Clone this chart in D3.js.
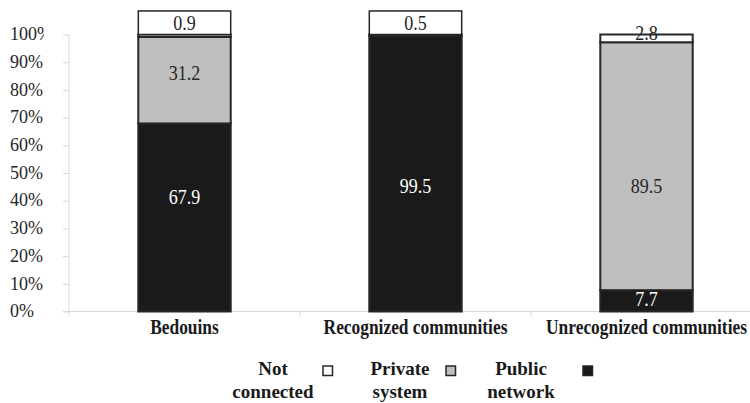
<!DOCTYPE html>
<html>
<head>
<meta charset="utf-8">
<script src="https://cdn.jsdelivr.net/npm/d3@7"></script>
<style>
  html, body { margin: 0; padding: 0; background: #fff; }
  svg { display: block; font-family: "Liberation Serif", "Times New Roman", serif; }
</style>
</head>
<body>
<svg id="chart" width="750" height="403"></svg>
<script>
// Water supply by community type (% of households)
const categories = ["Bedouins", "Recognized communities", "Unrecognized communities"];
const publicNetwork = [67.9, 99.5, 7.7];
const privateSystem = [31.2, 0, 89.5];
const notConnected = [0.9, 0.5, 2.8];
const yTicks = [0, 10, 20, 30, 40, 50, 60, 70, 80, 90, 100];

// Where each value label sits, in axis units (%)
const publicLabelAt = [41.6, 45.5, 4.5];
const privateLabelAt = [86.3, null, 45.5];
const notConnectedLabelAt = [104.2, 104.2, 100.7];
const notConnectedBoxed = [true, true, false];

const legendItems = [
  { lines: ["Not", "connected"], color: "#ffffff" },
  { lines: ["Private", "system"], color: "#bfbfbf" },
  { lines: ["Public", "network"], color: "#1a1a1a" }
];

const svg = d3.select("#chart");
const edge = "#262626";
const axisGray = "#d9d9d9";

const y = d3.scaleLinear().domain([0, 100]).range([311.5, 34.5]);
const x = d3.scaleBand().domain(categories).range([69, 762]).paddingInner(0.6).paddingOuter(0.3);

// Tick labels are clipped at the right edge of their column
svg.append("defs").append("clipPath").attr("id", "tickclip")
  .append("rect").attr("x", 0).attr("y", 0).attr("width", 44).attr("height", 403);

// y axis: line and tick marks
const yAxis = d3.axisLeft(y).tickValues(yTicks).tickSize(6).tickFormat("");
const gy = svg.append("g").attr("transform", "translate(69,0)").call(yAxis);
gy.select(".domain").attr("stroke", axisGray).attr("d", `M0,${y(100)}V${y(0) + 5}`);
gy.selectAll(".tick line").attr("stroke", axisGray);
gy.selectAll(".tick text").remove();

// y tick labels, left aligned
svg.append("g").attr("clip-path", "url(#tickclip)")
  .selectAll("text").data(yTicks).join("text")
  .attr("x", 10).attr("y", d => y(d)).attr("dy", "0.32em")
  .attr("font-size", 18).attr("fill", "#262626")
  .text(d => d + "%");

// x axis: baseline and category separators
const xAxis = d3.axisBottom(x).tickSize(0).tickFormat("");
const gx = svg.append("g").attr("transform", `translate(0,${y(0)})`).call(xAxis);
gx.select(".domain").attr("stroke", axisGray).attr("d", "M63,0H750");
gx.selectAll(".tick").remove();
const bounds = [1, 2].map(k => x.range()[0] + k * x.step());
gx.selectAll("line.sep").data(bounds).join("line")
  .attr("class", "sep")
  .attr("x1", d => d).attr("x2", d => d)
  .attr("y1", 0).attr("y2", 5)
  .attr("stroke", axisGray);

// category labels
svg.append("g").selectAll("text").data(categories).join("text")
  .attr("transform", d => `translate(${x(d) + x.bandwidth() / 2},334) scale(0.79,1)`)
  .attr("text-anchor", "middle")
  .attr("font-size", 22).attr("font-weight", "bold").attr("fill", "#1a1a1a")
  .text(d => d);

// stacked bars
const rows = categories.map((c, i) => ({
  cat: c,
  segs: [
    { key: "public", v0: 0, v1: publicNetwork[i], fill: "#1a1a1a" },
    { key: "private", v0: publicNetwork[i], v1: publicNetwork[i] + privateSystem[i], fill: "#bfbfbf" },
    { key: "none", v0: publicNetwork[i] + privateSystem[i], v1: publicNetwork[i] + privateSystem[i] + notConnected[i], fill: "#ffffff" }
  ].filter(s => s.v1 > s.v0)
}));

const bars = svg.append("g").selectAll("g").data(rows).join("g");
bars.selectAll("rect").data(d => d.segs.map(s => ({ ...s, cat: d.cat }))).join("rect")
  .attr("x", d => x(d.cat))
  .attr("width", x.bandwidth())
  .attr("y", d => y(d.v1))
  .attr("height", d => y(d.v0) - y(d.v1))
  .attr("fill", d => d.fill)
  .attr("stroke", edge).attr("stroke-width", 2);

// value labels
const labelFont = 21;
function valueLabel(cat, at, text, color) {
  svg.append("text")
    .attr("transform", `translate(${x(cat) + x.bandwidth() / 2},${y(at)}) scale(0.86,1)`)
    .attr("dy", "0.35em")
    .attr("text-anchor", "middle")
    .attr("font-size", labelFont).attr("fill", color)
    .text(text);
}
categories.forEach((c, i) => {
  valueLabel(c, publicLabelAt[i], publicNetwork[i], "#ffffff");
  if (privateLabelAt[i] !== null) valueLabel(c, privateLabelAt[i], privateSystem[i], "#262626");
  if (notConnectedBoxed[i]) {
    svg.append("rect")
      .attr("x", x(c)).attr("width", x.bandwidth())
      .attr("y", y(108.5)).attr("height", y(100) - y(108.5))
      .attr("fill", "#ffffff").attr("stroke", edge).attr("stroke-width", 1.5);
  }
  valueLabel(c, notConnectedLabelAt[i], notConnected[i], "#262626");
});

// legend
const legendTextX = [273, 400, 521];
const legendBoxX = [323, 446, 583];
const lg = svg.append("g");
legendItems.forEach((item, i) => {
  item.lines.forEach((line, j) => {
    lg.append("text")
      .attr("x", legendTextX[i]).attr("y", 375 + j * 23)
      .attr("text-anchor", "middle")
      .attr("font-size", 19).attr("font-weight", "bold").attr("fill", "#1a1a1a")
      .text(line);
  });
  lg.append("rect")
    .attr("x", legendBoxX[i]).attr("y", 366).attr("width", 9.5).attr("height", 9.5)
    .attr("fill", item.color).attr("stroke", edge).attr("stroke-width", 1.5);
});
</script>
</body>
</html>
